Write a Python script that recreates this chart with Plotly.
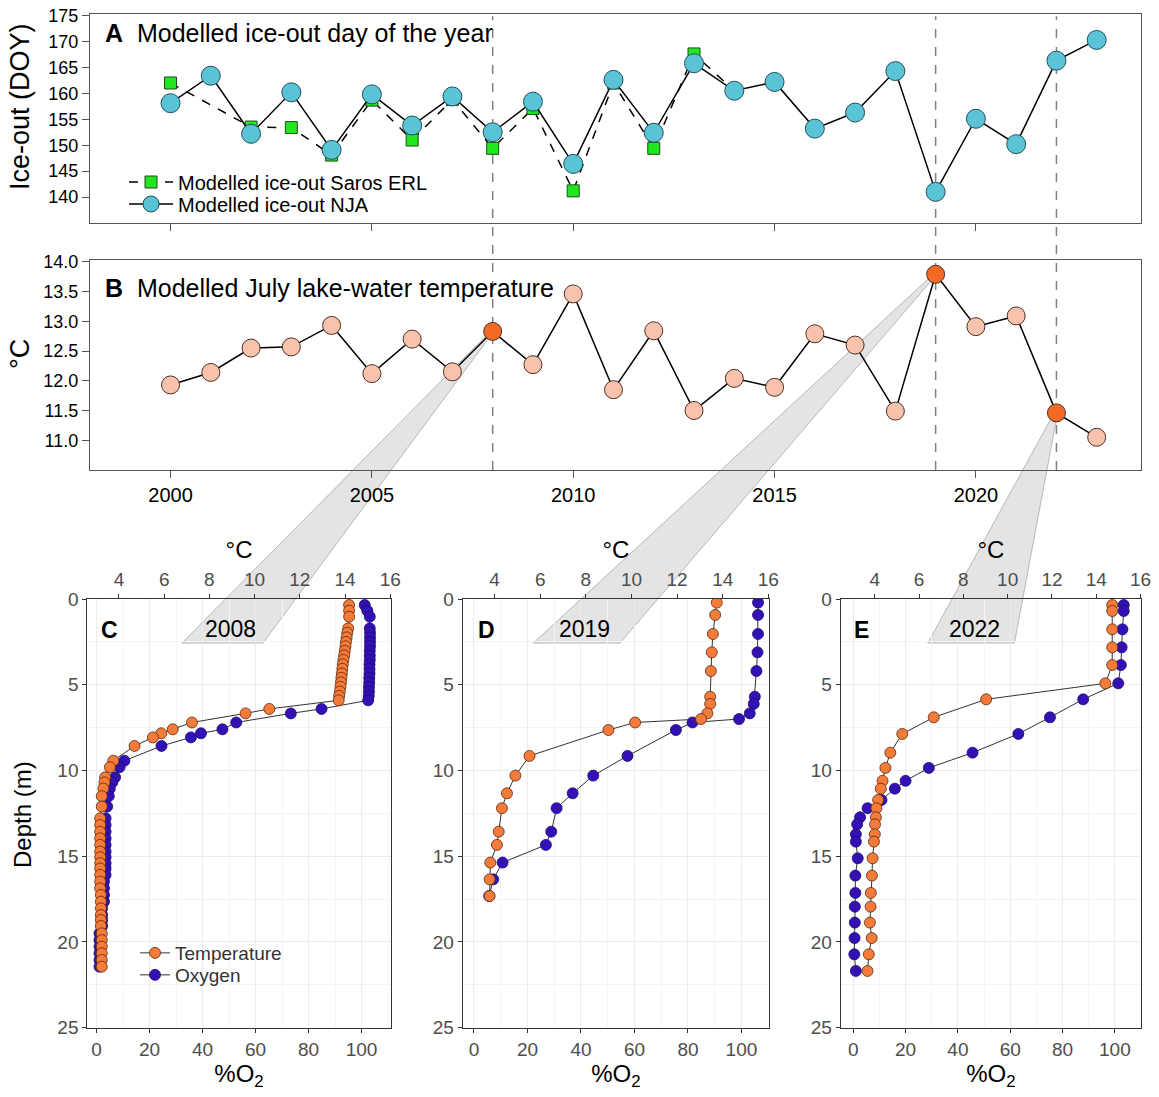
import plotly.graph_objects as go

# ---------------- data ----------------
years = [2000, 2001, 2002, 2003, 2004, 2005, 2006, 2007, 2008, 2009, 2010, 2011,
         2012, 2013, 2014, 2015, 2016, 2017, 2018, 2019, 2020, 2021, 2022, 2023]
ice_nja = [158.1, 163.4, 152.2, 160.2, 149.1, 159.8, 153.8, 159.4, 152.5, 158.4, 146.4, 162.6,
           152.4, 165.8, 160.5, 162.2, 153.2, 156.3, 164.3, 141.0, 155.1, 150.2, 166.3, 170.3]
ice_saros = [162.0, None, 153.5, 153.4, 148.1, 158.7, 151.0, 158.8, 149.4, 157.1, 141.2, 162.0,
             149.4, 167.6, 160.5, None, None, None, None, None, None, None, None, None]
july_temp = [11.93, 12.14, 12.55, 12.57, 12.93, 12.12, 12.70, 12.15, 12.83, 12.27, 13.46, 11.85,
             12.84, 11.50, 12.04, 11.89, 12.79, 12.60, 11.49, 13.79, 12.91, 13.09, 11.46, 11.05]
highlight_years = [2008, 2019, 2022]

C_depth = [0.35, 0.68, 1.03, 1.71, 1.97, 2.24, 2.50, 2.76, 3.02, 3.29, 3.55, 3.81, 4.07, 4.34,
           4.60, 4.86, 5.12, 5.39, 5.65, 5.91,
           6.41, 6.67, 7.20, 7.60, 7.83, 8.07, 8.57, 9.43, 9.81, 10.40, 10.70, 11.05, 11.50, 12.10,
           12.79, 13.18, 13.57, 13.96, 14.34, 14.73, 15.06, 15.41, 15.71, 16.09, 16.48, 16.87,
           17.26, 17.65, 18.04, 18.43, 18.72, 19.07, 19.50, 19.89, 20.27, 20.66, 21.05, 21.44]
C_temp = [14.18, 14.18, 14.18, 14.14, 14.10, 14.07, 14.04, 14.02, 13.99, 13.96, 13.93, 13.90,
          13.88, 13.86, 13.84, 13.82, 13.80, 13.77, 13.74, 13.72,
          10.65, 9.60, 7.23, 6.38, 5.87, 5.50, 4.69, 3.75, 3.60, 3.39, 3.36, 3.31, 3.24, 3.24,
          3.17, 3.17, 3.17, 3.17, 3.17, 3.17, 3.17, 3.17, 3.17, 3.17, 3.17, 3.17,
          3.20, 3.20, 3.20, 3.20, 3.20, 3.20, 3.24, 3.24, 3.24, 3.24, 3.24, 3.24]
C_o2 = [101.2, 102.2, 103.1, 103.1, 103.2, 103.2, 103.2, 103.2, 103.1, 103.1, 103.1, 103.0,
        103.0, 103.0, 102.9, 102.9, 102.8, 102.8, 102.7, 102.5,
        84.9, 73.3, 52.7, 47.5, 39.4, 35.6, 24.5, 10.5, 8.7, 7.0, 5.9, 5.0, 4.6, 4.0,
        3.4, 3.4, 3.4, 3.4, 3.4, 3.4, 3.4, 3.4, 3.4, 3.4, 2.8, 2.8,
        2.8, 2.8, 2.1, 2.1, 2.1, 2.1, 1.1, 1.1, 1.1, 1.1, 1.1, 1.1]

D_depth = [0.21, 0.93, 2.04, 3.11, 4.20, 5.70, 6.12, 6.67, 7.00, 7.20, 7.64, 9.15, 10.30,
           11.33, 12.20, 13.57, 14.34, 15.37, 16.35, 17.32]
D_temp = [13.74, 13.67, 13.57, 13.52, 13.48, 13.45, 13.45, 13.33, 13.05, 10.16, 8.99, 5.53, 4.91,
          4.54, 4.32, 4.18, 4.10, 3.81, 3.78, 3.78]
D_o2 = [106.2, 106.2, 106.2, 106.0, 105.6, 105.0, 104.6, 103.1, 99.1, 81.7, 75.5, 57.4, 44.6,
        36.9, 30.9, 28.9, 26.9, 10.7, 7.2, 5.7]

E_depth = [0.35, 0.70, 1.77, 2.82, 3.85, 4.92, 5.85, 6.90, 7.87, 8.96, 9.85, 10.60, 11.06, 11.72,
           12.20, 12.73, 13.14, 13.72, 14.15, 15.12, 16.13, 17.14, 17.94, 18.87, 19.77, 20.72, 21.69]
E_temp = [14.72, 14.72, 14.72, 14.72, 14.72, 14.41, 9.03, 6.66, 5.24, 4.70, 4.48, 4.35, 4.27, 4.15,
          4.07, 4.05, 4.01, 4.00, 3.96, 3.90, 3.87, 3.82, 3.81, 3.78, 3.86, 3.73, 3.67]
E_o2 = [103.4, 103.4, 102.9, 102.6, 102.3, 101.3, 87.9, 75.2, 63.1, 45.6, 28.9, 20.0, 15.9, 10.8,
        5.5, 2.6, 1.5, 1.0, 1.0, 1.7, 0.8, 0.8, 0.6, 0.6, 0.5, 0.4, 1.0]

profile_labels = ["2008", "2019", "2022"]
panel_letters = ["C", "D", "E"]

# ---------------- layout geometry ----------------
W, H = 1159, 1097
FONT = "Liberation Sans, Arial, Helvetica, sans-serif"


def fx(px):
    return px / W


def fy(py):
    return 1 - py / H


dom_x_AB = [fx(90), fx(1141)]
dom_y_A = [fy(223), fy(14)]
dom_y_B = [fy(470), fy(260)]
dom_y_P = [fy(1027.7), fy(599)]
dom_x_P = [[fx(87.3), fx(390.7)], [fx(462.7), fx(769)], [fx(840.7), fx(1141)]]

rng_year = [1998.0, 2024.1]
rng_A = [135, 175.3]
rng_B = [10.5, 14.03]
rng_depth = [25, 0]
rng_o2 = [[-3.5, 111.0], [-4.2, 110.3], [-4.8, 110.0]]
rng_t = [[2.6, 16.02], [2.6, 16.03], [2.46, 16.02]]

# label-box bottom corners (O2 units) and depth, label/letter positions
wedge_o2 = [[32.2, 62.8], [22.2, 54.6], [28.5, 61.6]]
wedge_depth = 2.57
label_o2 = [50.4, 41.5, 46.5]
letter_o2 = [4.7, 4.8, 3.2]


def to_paper(v, dom, rng):
    return dom[0] + (v - rng[0]) / (rng[1] - rng[0]) * (dom[1] - dom[0])


fig = go.Figure()

# ---------------- Panel A ----------------
fig.add_trace(go.Scatter(
    x=years, y=ice_saros, mode="lines+markers", connectgaps=True,
    name="Modelled ice-out Saros ERL",
    line=dict(color="black", width=1.5, dash="dash"),
    marker=dict(symbol="square", size=12, color="#22e61e", line=dict(color="#1d4d1d", width=1)),
    xaxis="x", yaxis="y", legend="legend"))
fig.add_trace(go.Scatter(
    x=years, y=ice_nja, mode="lines+markers", name="Modelled ice-out NJA",
    line=dict(color="black", width=1.5),
    marker=dict(symbol="circle", size=19, color="#5bc3d6", line=dict(color="#21505c", width=1)),
    xaxis="x", yaxis="y", legend="legend3"))

# ---------------- Panel B ----------------
b_colors = ["#f26a24" if y in highlight_years else "#f9c2ad" for y in years]
fig.add_trace(go.Scatter(
    x=years, y=july_temp, mode="lines+markers", showlegend=False,
    line=dict(color="black", width=1.5),
    marker=dict(size=18, color=b_colors, line=dict(color="#4d2f25", width=1)),
    xaxis="x2", yaxis="y2"))

# ---------------- Profiles ----------------
profiles = [(C_depth, C_temp, C_o2), (D_depth, D_temp, D_o2), (E_depth, E_temp, E_o2)]
for i, (dep, tmp, o2) in enumerate(profiles):
    xo = "x%d" % (3 + 2 * i)
    xt = "x%d" % (4 + 2 * i)
    ya = "y%d" % (3 + i)
    fig.add_trace(go.Scatter(
        x=o2, y=dep, mode="lines+markers", name="Oxygen",
        showlegend=(i == 0), legend="legend4",
        line=dict(color="#333333", width=1),
        marker=dict(size=11, color="#3311b5", line=dict(color="#1c0a6e", width=0.8)),
        xaxis=xo, yaxis=ya))
    fig.add_trace(go.Scatter(
        x=tmp, y=dep, mode="lines+markers", name="Temperature",
        showlegend=(i == 0), legend="legend2",
        line=dict(color="#333333", width=1),
        marker=dict(size=11, color="#f47b3a", line=dict(color="#5c2a0e", width=0.8)),
        xaxis=xt, yaxis=ya))

# ---------------- axes ----------------
ab_x = dict(range=rng_year, domain=dom_x_AB, showline=True, mirror=True, linecolor="#555555",
            linewidth=1.2, ticks="outside", ticklen=7, tickcolor="#555555",
            tickvals=[2000, 2005, 2010, 2015, 2020], showgrid=False, zeroline=False,
            automargin=False, tickfont=dict(size=20, color="black", family=FONT))
ab_y = dict(showline=True, mirror=True, linecolor="#555555", linewidth=1.2, ticks="outside",
            ticklen=7, tickcolor="#555555", showgrid=False, zeroline=False, automargin=False,
            tickfont=dict(size=18, color="black"))
layout = dict(
    width=W, height=H, margin=dict(l=0, r=0, t=0, b=0),
    paper_bgcolor="white", plot_bgcolor="rgba(0,0,0,0)",
    font=dict(family=FONT, color="black"),
    template="none",
    xaxis=dict(ab_x, anchor="y", showticklabels=False),
    xaxis2=dict(ab_x, anchor="y2", showticklabels=True),
    yaxis=dict(ab_y, domain=dom_y_A, range=rng_A, anchor="x",
               tickvals=[140, 145, 150, 155, 160, 165, 170, 175]),
    yaxis2=dict(ab_y, domain=dom_y_B, range=rng_B, anchor="x2",
                tickvals=[11.0, 11.5, 12.0, 12.5, 13.0, 13.5, 14.0], tickformat=".1f"),
)

for i in range(3):
    xo = "xaxis%d" % (3 + 2 * i)
    xt = "xaxis%d" % (4 + 2 * i)
    ya = "yaxis%d" % (3 + i)
    layout[xo] = dict(
        domain=dom_x_P[i], range=rng_o2[i], anchor="y%d" % (3 + i), side="bottom",
        tick0=0, dtick=20, ticks="outside", ticklen=4, tickcolor="#333333",
        showline=True, mirror=True, linecolor="#333333", linewidth=1,
        showgrid=True, gridcolor="#ebebeb", gridwidth=1,
        minor=dict(dtick=10, tick0=0, showgrid=True, gridcolor="#f4f4f4", gridwidth=0.6),
        zeroline=False, automargin=False,
        tickfont=dict(size=19, color="#4d4d4d"),
        title=dict(text="%O<sub>2</sub>", font=dict(size=24, color="black"), standoff=6))
    layout[xt] = dict(
        overlaying="x%d" % (3 + 2 * i), anchor="y%d" % (3 + i), side="top",
        range=rng_t[i], tick0=0, dtick=2, ticks="outside", ticklen=4, tickcolor="#333333",
        showline=False, showgrid=False, zeroline=False, automargin=False,
        tickfont=dict(size=19, color="#4d4d4d"),
        title=dict(text="°C", font=dict(size=24, color="black"), standoff=4))
    layout[ya] = dict(
        domain=dom_y_P, range=rng_depth, anchor="x%d" % (3 + 2 * i),
        tick0=0, dtick=5, ticks="outside", ticklen=4, tickcolor="#333333",
        showline=True, mirror=True, linecolor="#333333", linewidth=1,
        showgrid=True, gridcolor="#ebebeb", gridwidth=1,
        minor=dict(dtick=2.5, tick0=0, showgrid=True, gridcolor="#f4f4f4", gridwidth=0.6),
        zeroline=False, automargin=False,
        tickfont=dict(size=19, color="#4d4d4d"))

fig.update_layout(**layout)

# ---------------- shapes ----------------
shapes = []
for yr in highlight_years:
    px_ = to_paper(yr, dom_x_AB, rng_year)
    shapes.append(dict(type="line", xref="paper", yref="paper", x0=px_, x1=px_,
                       y0=dom_y_B[0], y1=dom_y_A[1] - 0.002,
                       line=dict(color="#808080", width=1.5, dash="dash"), layer="below"))
for i, yr in enumerate(highlight_years):
    val = july_temp[years.index(yr)]
    ax = to_paper(yr, dom_x_AB, rng_year)
    ay = to_paper(val, dom_y_B, rng_B)
    bl = to_paper(wedge_o2[i][0], dom_x_P[i], rng_o2[i])
    br = to_paper(wedge_o2[i][1], dom_x_P[i], rng_o2[i])
    by = to_paper(wedge_depth, dom_y_P, rng_depth)
    path = "M %.5f,%.5f L %.5f,%.5f L %.5f,%.5f L %.5f,%.5f Z" % (
        ax - 0.002, ay, ax + 0.001, ay, br, by, bl, by)
    shapes.append(dict(type="path", xref="paper", yref="paper", path=path,
                       fillcolor="#e4e4e4", line=dict(color="#a9a9a9", width=0.8), layer="below"))
fig.update_layout(shapes=shapes)

# ---------------- annotations ----------------
ann = [
    dict(text="<b>A</b>\u00a0\u00a0Modelled ice-out day of the year", xref="paper", yref="paper",
         x=fx(103), y=fy(33), xanchor="left", yanchor="middle", showarrow=False,
         font=dict(size=25, color="black")),
    dict(text="<b>B</b>\u00a0\u00a0Modelled July lake-water temperature", xref="paper", yref="paper",
         x=fx(103), y=fy(288), xanchor="left", yanchor="middle", showarrow=False,
         font=dict(size=25, color="black")),
    dict(text="Ice-out (DOY)", xref="paper", yref="paper", x=fx(20), y=fy(107), textangle=-90,
         xanchor="center", yanchor="middle", showarrow=False, font=dict(size=27, color="black")),
    dict(text="°C", xref="paper", yref="paper", x=fx(20), y=fy(354), textangle=-90,
         xanchor="center", yanchor="middle", showarrow=False, font=dict(size=27, color="black")),
    dict(text="Depth (m)", xref="paper", yref="paper", x=fx(22), y=fy(815), textangle=-90,
         xanchor="center", yanchor="middle", showarrow=False, font=dict(size=24, color="black")),
]
for i in range(3):
    ann.append(dict(text=profile_labels[i], xref="x%d" % (3 + 2 * i), yref="y%d" % (3 + i),
                    x=label_o2[i], y=1.75, showarrow=False, xanchor="center", yanchor="middle",
                    font=dict(size=23, color="black")))
    ann.append(dict(text="<b>%s</b>" % panel_letters[i], xref="x%d" % (3 + 2 * i),
                    yref="y%d" % (3 + i), x=letter_o2[i], y=1.8, showarrow=False,
                    xanchor="center", yanchor="middle", font=dict(size=23, color="black")))
fig.update_layout(annotations=ann)

# ---------------- legends ----------------
leg_a = dict(xanchor="left", yanchor="middle", bgcolor="rgba(0,0,0,0)",
             font=dict(size=20, color="black"), itemwidth=44)
leg_c = dict(xanchor="left", yanchor="middle", bgcolor="rgba(0,0,0,0)",
             font=dict(size=19, color="#333333"), itemwidth=30)
fig.update_layout(
    legend=dict(leg_a, x=fx(124), y=fy(182)),
    legend3=dict(leg_a, x=fx(124), y=fy(204)),
    legend2=dict(leg_c, x=fx(135), y=fy(953)),
    legend4=dict(leg_c, x=fx(135), y=fy(975)),
)

fig.write_html("out.html")
